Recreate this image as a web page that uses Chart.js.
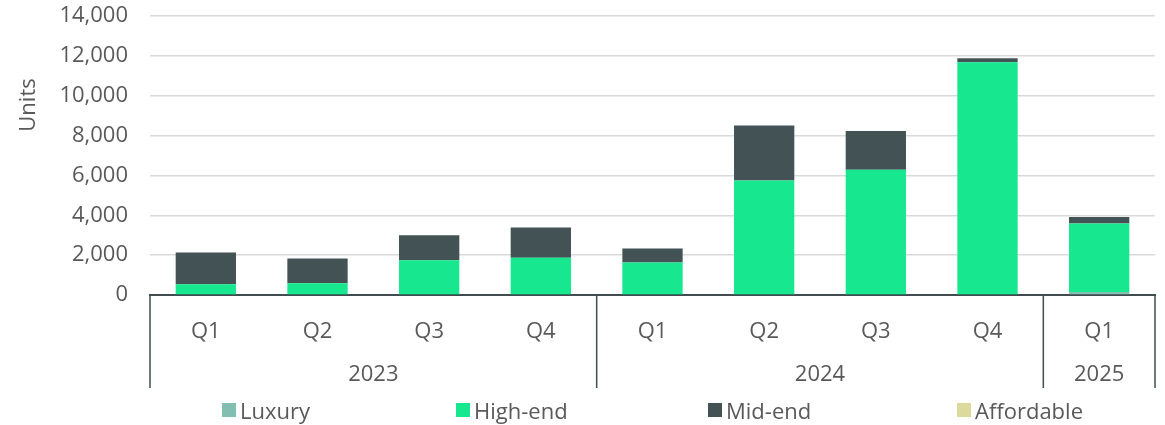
<!DOCTYPE html>
<html>
<head>
<meta charset="utf-8">
<script src="https://cdn.jsdelivr.net/npm/chart.js@4"></script>
<style>
  html, body { margin: 0; padding: 0; background: #fff; }
  #wrap { position: relative; width: 1165px; height: 425px; }
  #chart { display: block; }
  #legend { position: absolute; left: 222px; top: 396px; width: 940px; display: flex; white-space: nowrap; font-family: "Open Sans", sans-serif; font-size: 22px; line-height: 28px; color: #595959; }
  #legend .item { display: flex; align-items: center; }
  #legend .box { width: 14px; height: 14px; margin-right: 4px; }
</style>
</head>
<body>
<div id="wrap">
  <canvas id="chart" width="1165" height="425"></canvas>
  <div id="legend"></div>
</div>
<script>
const quarters = ['Q1', 'Q2', 'Q3', 'Q4', 'Q1', 'Q2', 'Q3', 'Q4', 'Q1'];
const years = ['2023', '2023', '2023', '2023', '2024', '2024', '2024', '2024', '2025'];
const luxury = [0, 0, 0, 0, 0, 0, 0, 40, 150];
const highEnd = [535, 585, 1750, 1865, 1635, 5750, 6285, 11645, 3435];
const midEnd = [1600, 1250, 1250, 1520, 700, 2750, 1950, 200, 335];
const affordable = [0, 0, 0, 0, 0, 0, 0, 0, 0];

const textGrey = '#595959';
const axisDark = '#3f4d4f';
const fontFam = '"Open Sans", sans-serif';

const series = [
    { label: 'Luxury', data: luxury, color: '#82bfb0' },
    { label: 'High-end', data: highEnd, color: '#17e88f' },
    { label: 'Mid-end', data: midEnd, color: '#435254' },
    { label: 'Affordable', data: affordable, color: '#dbd99b' }
];
// legend slot widths, as in the source layout
const legendSlots = [234, 252, 249, 200];

// year groups under the quarter labels
const yearGroups = {
    id: 'yearGroups',
    afterDraw(chart) {
        const ctx = chart.ctx;
        const x = chart.scales.x;
        const area = chart.chartArea;
        const top = area.bottom;
        const bottom = 388;
        const bounds = [area.left];
        for (let i = 1; i < years.length; i++) {
            if (years[i] !== years[i - 1]) {
                bounds.push((x.getPixelForValue(i - 1) + x.getPixelForValue(i)) / 2);
            }
        }
        bounds.push(area.right);
        ctx.save();
        ctx.strokeStyle = axisDark;
        ctx.lineWidth = 1.5;
        bounds.forEach(b => {
            ctx.beginPath();
            ctx.moveTo(b, top);
            ctx.lineTo(b, bottom);
            ctx.stroke();
        });
        const uniq = [...new Set(years)];
        ctx.fillStyle = textGrey;
        ctx.font = '22px ' + fontFam;
        ctx.textAlign = 'center';
        ctx.textBaseline = 'middle';
        uniq.forEach((y, i) => {
            ctx.fillText(y, (bounds[i] + bounds[i + 1]) / 2, 375);
        });
        // y axis title, sits above the axis centre
        ctx.translate(29, 105);
        ctx.rotate(-Math.PI / 2);
        ctx.fillText('Units', 0, 0);
        ctx.restore();
    }
};

new Chart(document.getElementById('chart'), {
    type: 'bar',
    data: {
        labels: quarters,
        datasets: series.map(s => ({
            label: s.label,
            data: s.data,
            backgroundColor: s.color,
            borderWidth: 0,
            barPercentage: 0.54,
            categoryPercentage: 1
        }))
    },
    options: {
        responsive: false,
        animation: false,
        layout: { padding: { top: 16, right: 10, left: 0, bottom: 0 } },
        plugins: {
            legend: { display: false },
            tooltip: { enabled: false }
        },
        scales: {
            x: {
                stacked: true,
                grid: { display: false },
                border: { display: true, color: axisDark, width: 2 },
                ticks: { color: textGrey, font: { family: fontFam, size: 22 }, padding: 16, maxRotation: 0 },
                afterFit(scale) { scale.height = 130; }
            },
            y: {
                stacked: true,
                min: 0,
                max: 14000,
                grid: { color: '#d9d9d9', lineWidth: 1.5, drawTicks: true, tickLength: 22, tickColor: 'rgba(0,0,0,0)' },
                border: { display: false },
                ticks: {
                    stepSize: 2000,
                    color: textGrey,
                    padding: 0,
                    font: { family: fontFam, size: 22 },
                    callback: v => v.toLocaleString('en-US')
                },
                afterFit(scale) { scale.width = 150; }
            }
        }
    },
    plugins: [yearGroups]
});

const legend = document.getElementById('legend');
series.forEach((s, i) => {
    const item = document.createElement('div');
    item.className = 'item';
    item.style.width = legendSlots[i] + 'px';
    item.innerHTML = '<span class="box" style="background:' + s.color + '"></span><span>' + s.label + '</span>';
    legend.appendChild(item);
});
</script>
</body>
</html>
